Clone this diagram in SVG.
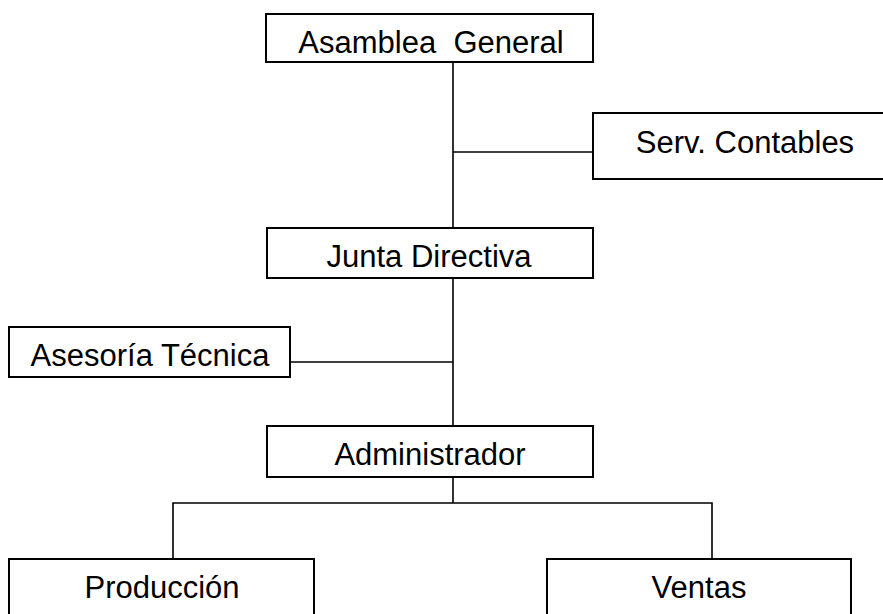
<svg xmlns="http://www.w3.org/2000/svg" width="883" height="614" viewBox="0 0 883 614">
<style>
.box{fill:#fff;stroke:#000;stroke-width:2}
.ln{fill:none;stroke:#000;stroke-width:1.6}
text{font-family:"Liberation Sans",Arial,sans-serif;font-size:31px;fill:#000;text-anchor:middle}
</style>
<rect width="883" height="614" fill="#fff"/>
<g id="connectors">
<line class="ln" x1="453" y1="62" x2="453" y2="228"/>
<line class="ln" x1="453" y1="152" x2="593" y2="152"/>
<line class="ln" x1="453" y1="278" x2="453" y2="426"/>
<line class="ln" x1="290" y1="362" x2="453" y2="362"/>
<line class="ln" x1="453" y1="477" x2="453" y2="503"/>
<polyline class="ln" points="173,559 173,503 712,503 712,559"/>
</g>
<g id="asamblea"><rect class="box" x="266" y="14" width="327" height="48"/><text x="431" y="53" xml:space="preserve">Asamblea  General</text></g>
<g id="serv"><rect class="box" x="593" y="113" width="310" height="66"/><text x="745" y="153">Serv. Contables</text></g>
<g id="junta"><rect class="box" x="267" y="228" width="326" height="50"/><text x="429" y="267">Junta Directiva</text></g>
<g id="asesoria"><rect class="box" x="9" y="327" width="281" height="50"/><text x="150" y="366">Asesoría Técnica</text></g>
<g id="admin"><rect class="box" x="267" y="426" width="326" height="51"/><text x="430" y="465">Administrador</text></g>
<g id="produccion"><rect class="box" x="9" y="559" width="305" height="70"/><text x="162" y="598">Producción</text></g>
<g id="ventas"><rect class="box" x="547" y="559" width="304" height="70"/><text x="699" y="598">Ventas</text></g>
</svg>
